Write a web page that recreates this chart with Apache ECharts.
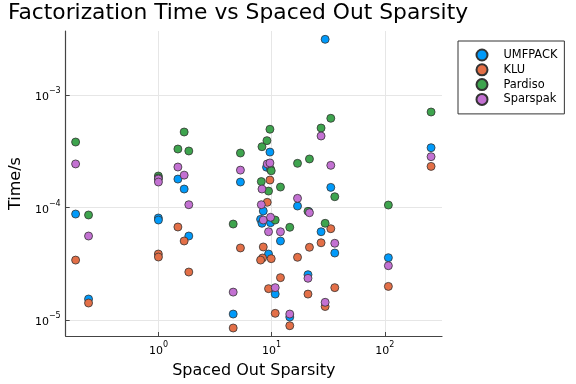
<!DOCTYPE html>
<html>
<head>
<meta charset="utf-8">
<script src="https://cdn.jsdelivr.net/npm/echarts@6/dist/echarts.min.js"></script>
<style>html,body{margin:0;padding:0;background:#fff;}#c{width:576px;height:384px;}</style>
</head>
<body>
<div id="c"></div>
<script>
// Spaced-out sparsity (x) and factorization time in seconds (y) per solver
const umfpackX = [0.1855, 0.2413, 0.998, 1.0, 1.486, 1.688, 1.855, 4.577, 5.303, 8.44, 7.99, 8.22, 9.663, 9.02, 9.782, 9.394, 10.76, 11.97, 14.47, 16.94, 20.95, 21.3, 27.35, 29.71, 33.33, 36.14, 107.5, 256.3];
const umfpackY = [8.75e-5, 1.537e-5, 8.07e-5, 7.74e-5, 1.79e-4, 1.46e-4, 5.58e-5, 1.13e-5, 1.685e-4, 9.31e-5, 7.85e-5, 7.24e-5, 3.11e-4, 2.28e-4, 7.33e-5, 3.86e-5, 1.70e-5, 5.04e-5, 1.063e-5, 1.031e-4, 2.53e-5, 9.2e-5, 6.09e-5, 3.126e-3, 1.51e-4, 3.94e-5, 3.58e-5, 3.40e-4];

const kluX = [0.1855, 0.2413, 0.998, 1.0, 1.486, 1.688, 1.855, 4.577, 5.303, 8.44, 8.32, 7.99, 9.663, 9.15, 9.92, 9.394, 10.76, 11.97, 14.47, 16.94, 21.59, 20.95, 27.35, 29.71, 33.33, 36.14, 107.5, 256.3];
const kluY = [3.41e-5, 1.416e-5, 3.86e-5, 3.63e-5, 6.71e-5, 5.04e-5, 2.67e-5, 8.49e-6, 4.37e-5, 4.46e-5, 3.56e-5, 3.41e-5, 1.755e-4, 1.112e-4, 3.51e-5, 1.90e-5, 1.147e-5, 2.38e-5, 8.90e-6, 3.61e-5, 4.43e-5, 1.70e-5, 4.86e-5, 1.318e-5, 6.48e-5, 1.94e-5, 1.99e-5, 2.32e-4];

const pardisoX = [0.1855, 0.2413, 0.998, 1.0, 1.486, 1.688, 1.855, 4.577, 5.303, 8.22, 8.108, 9.663, 9.094, 9.782, 9.92, 9.394, 10.76, 11.97, 14.47, 16.94, 21.59, 20.95, 27.35, 29.71, 33.33, 36.14, 107.5, 256.3];
const pardisoY = [3.82e-4, 8.58e-5, 1.905e-4, 1.83e-4, 3.31e-4, 4.69e-4, 3.18e-4, 7.13e-5, 3.05e-4, 3.47e-4, 1.70e-4, 4.96e-4, 3.93e-4, 2.19e-4, 2.12e-4, 1.40e-4, 7.74e-5, 1.52e-4, 6.67e-5, 2.47e-4, 2.70e-4, 9.25e-5, 5.09e-4, 7.24e-5, 6.21e-4, 1.247e-4, 1.052e-4, 7.06e-4];

const sparspakX = [0.1855, 0.2413, 0.998, 1.0, 1.486, 1.688, 1.855, 4.577, 5.303, 8.22, 8.108, 8.44, 9.15, 9.663, 9.782, 9.394, 10.76, 11.97, 14.47, 16.94, 21.59, 20.95, 27.35, 29.71, 33.33, 36.14, 107.5, 256.3];
const sparspakY = [2.44e-4, 5.58e-5, 1.79e-4, 1.685e-4, 2.29e-4, 1.94e-4, 1.059e-4, 1.77e-5, 2.15e-4, 1.46e-4, 1.059e-4, 7.74e-5, 2.44e-4, 2.49e-4, 8.18e-5, 6.09e-5, 1.94e-5, 6.09e-5, 1.13e-5, 1.207e-4, 8.99e-5, 2.35e-5, 4.32e-4, 1.437e-5, 2.37e-4, 4.81e-5, 3.04e-5, 2.83e-4];

const seriesNames = ['UMFPACK', 'KLU', 'Pardiso', 'Sparspak'];
const seriesColors = ['#009AFA', '#E36F47', '#3EA44E', '#C371D2'];
const xTicks = [1, 10, 100];
const yTicks = [1e-5, 1e-4, 1e-3];

const FONT = 'DejaVu Sans';
const zip = (xs, ys) => xs.map((x, i) => [x, ys[i]]);
const allData = [zip(umfpackX, umfpackY), zip(kluX, kluY), zip(pardisoX, pardisoY), zip(sparspakX, sparspakY)];

function powLabel(v) {
  const l = Math.log10(v);
  const e = Math.round(l);
  if (Math.abs(l - e) > 1e-6) return '';
  const es = e < 0 ? '\u2212' + (-e) : String(e);
  return '{b|10}{s|' + es + '}';
}
const richSup = {
  b: { fontSize: 11, fontFamily: FONT, color: '#000', lineHeight: 16, verticalAlign: 'bottom' },
  s: { fontSize: 8, fontFamily: FONT, color: '#000', lineHeight: 9, verticalAlign: 'top' }
};

const chart = echarts.init(document.getElementById('c'), null, { renderer: 'canvas' });
chart.setOption({
  animation: false,
  backgroundColor: '#fff',
  title: {
    text: 'Factorization Time vs Spaced Out Sparsity',
    left: 238, top: 2, textAlign: 'center', padding: 0,
    textStyle: { fontFamily: FONT, fontSize: 21.8, fontWeight: 'normal', color: '#000' }
  },
  grid: { left: 63, right: 134, top: 31, bottom: 48, containLabel: false },
  legend: {
    orient: 'vertical', left: 458, top: 41,
    padding: [7.5, 7, 8, 17.5],
    itemWidth: 11, itemHeight: 11, itemGap: 1.8,
    borderColor: '#333', borderWidth: 1, backgroundColor: '#fff',
    textStyle: { fontFamily: FONT, fontSize: 11.4, color: '#000', lineHeight: 11, padding: [0, 0, 0, 11] },
    data: seriesNames
  },
  xAxis: {
    type: 'log', logBase: 10, min: 0.1516, max: 320.1,
    name: 'Spaced Out Sparsity', nameLocation: 'middle', nameGap: 27,
    nameTextStyle: { fontFamily: FONT, fontSize: 16, color: '#000' },
    axisLine: { show: true, lineStyle: { color: '#444', width: 1.2 } },
    axisTick: { show: true, inside: true, length: 4, customValues: xTicks, lineStyle: { color: '#444' } },
    axisLabel: { customValues: xTicks, formatter: powLabel, rich: richSup, margin: 5 },
    splitLine: { show: true, lineStyle: { color: '#e6e6e6', width: 1 } },
    minorTick: { show: false }, minorSplitLine: { show: false }
  },
  yAxis: {
    type: 'log', logBase: 10, min: 7.21e-6, max: 3.706e-3,
    name: 'Time/s', nameLocation: 'middle', nameGap: 41, nameRotate: 90,
    nameTextStyle: { fontFamily: FONT, fontSize: 16, color: '#000' },
    axisLine: { show: true, lineStyle: { color: '#444', width: 1.2 } },
    axisTick: { show: true, inside: true, length: 4, customValues: yTicks, lineStyle: { color: '#444' } },
    axisLabel: { customValues: yTicks, formatter: powLabel, rich: richSup, margin: 5 },
    splitLine: { show: true, lineStyle: { color: '#e6e6e6', width: 1 } },
    minorTick: { show: false }, minorSplitLine: { show: false }
  },
  series: seriesNames.map((name, i) => ({
    name: name,
    type: 'scatter',
    data: allData[i],
    symbol: 'circle',
    symbolSize: 8,
    itemStyle: { color: seriesColors[i], borderColor: '#333', borderWidth: 0.8, opacity: 1 },
    emphasis: { disabled: true }
  }))
});
</script>
</body>
</html>
